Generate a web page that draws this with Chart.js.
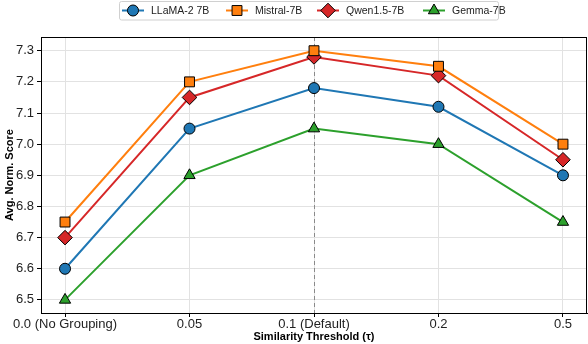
<!DOCTYPE html>
<html>
<head>
<meta charset="utf-8">
<script src="https://cdn.jsdelivr.net/npm/chart.js@4"></script>
<style>
  html, body { margin: 0; padding: 0; background: #fff; }
  #wrap { width: 588px; height: 344px; }
</style>
</head>
<body>
<div id="wrap"><canvas id="chart" width="588" height="344"></canvas></div>
<script>
// valores
const categories = ['0.0 (No Grouping)', '0.05', '0.1 (Default)', '0.2', '0.5'];
const llama = [6.60, 7.05, 7.18, 7.12, 6.90];
const mistral = [6.75, 7.20, 7.30, 7.25, 7.00];
const qwen = [6.70, 7.15, 7.28, 7.22, 6.95];
const gemma = [6.50, 6.90, 7.05, 7.00, 6.75];
const yTicks = [6.5, 6.6, 6.7, 6.8, 6.9, 7.0, 7.1, 7.2, 7.3];
const defaultIndex = 2;

const FONT = "'Liberation Sans', Arial, sans-serif";

function toPoints(values) {
    return values.map((v, i) => ({ x: i, y: v }));
}

function makeSet(label, values, color, style, radius) {
    return {
        label: label,
        data: toPoints(values),
        borderColor: color,
        backgroundColor: color,
        borderWidth: 2,
        pointStyle: style,
        pointRadius: radius,
        pointHoverRadius: radius,
        pointBackgroundColor: color,
        pointBorderColor: '#000',
        pointBorderWidth: 1,
        tension: 0
    };
}

// línea vertical punteada, marco y leyenda propia
const extras = {
    id: 'extras',
    beforeDatasetsDraw(chart) {
        const ctx = chart.ctx;
        const area = chart.chartArea;
        const x = Math.round(chart.scales.x.getPixelForValue(defaultIndex)) + 0.5;
        ctx.save();
        ctx.strokeStyle = '#8a8a8a';
        ctx.lineWidth = 1;
        ctx.setLineDash([4, 3]);
        ctx.beginPath();
        ctx.moveTo(x, area.top);
        ctx.lineTo(x, area.bottom);
        ctx.stroke();
        ctx.restore();
    },
    afterDraw(chart) {
        const ctx = chart.ctx;
        const area = chart.chartArea;
        ctx.save();
        ctx.strokeStyle = '#000';
        ctx.lineWidth = 1;
        ctx.strokeRect(Math.round(area.left) + 0.5, Math.round(area.top) + 0.5,
            Math.round(area.right - area.left) - 1, Math.round(area.bottom - area.top));
        ctx.restore();

        // leyenda
        const boxL = 119, boxT = 1.5, boxR = 498, boxB = 20;
        ctx.save();
        ctx.fillStyle = '#fff';
        ctx.strokeStyle = '#d0d0d0';
        ctx.lineWidth = 1;
        ctx.beginPath();
        ctx.roundRect(boxL + 0.5, boxT, boxR - boxL, boxB - boxT, 2);
        ctx.fill();
        ctx.stroke();
        const centers = [133, 237, 328, 434];
        const cy = 10.5;
        chart.data.datasets.forEach((ds, i) => {
            const cx = centers[i];
            ctx.strokeStyle = ds.borderColor;
            ctx.lineWidth = 2;
            ctx.beginPath();
            ctx.moveTo(cx - 11, cy);
            ctx.lineTo(cx + 11, cy);
            ctx.stroke();
            ctx.fillStyle = ds.pointBackgroundColor;
            ctx.strokeStyle = '#000';
            ctx.lineWidth = 1;
            Chart.helpers.drawPoint(ctx, {
                pointStyle: ds.pointStyle,
                radius: ds.pointRadius,
                rotation: 0,
                borderWidth: 1
            }, cx, cy);
            ctx.fillStyle = '#222';
            ctx.font = '10.5px ' + FONT;
            ctx.textBaseline = 'middle';
            ctx.textAlign = 'left';
            ctx.fillText(ds.label, cx + 18, cy + 0.5);
        });
        ctx.restore();
    }
};

const gridStyle = {
    color: '#e2e2e2',
    lineWidth: 1,
    borderDash: [4, 2],
    drawTicks: true,
    tickLength: 4,
    tickColor: '#000',
    tickBorderDash: [],
    tickWidth: 1
};

new Chart(document.getElementById('chart'), {
    type: 'line',
    data: {
        datasets: [
            makeSet('LLaMA-2 7B', llama, '#1f77b4', 'circle', 5.5),
            makeSet('Mistral-7B', mistral, '#ff7f0e', 'rect', 7),
            makeSet('Qwen1.5-7B', qwen, '#d62728', 'rectRot', 7.3),
            makeSet('Gemma-7B', gemma, '#2ca02c', 'triangle', 6.5)
        ]
    },
    options: {
        responsive: false,
        animation: false,
        events: [],
        layout: { autoPadding: false, padding: { top: 37, right: 1, left: 0, bottom: 0 } },
        plugins: {
            legend: { display: false },
            tooltip: { enabled: false }
        },
        scales: {
            x: {
                type: 'linear',
                min: -0.193,
                max: 4.193,
                afterBuildTicks(axis) {
                    axis.ticks = categories.map((c, i) => ({ value: i }));
                },
                afterFit(axis) {
                    axis.height = 31;
                    axis.paddingLeft = 0;
                    axis.paddingRight = 0;
                },
                grid: gridStyle,
                border: { display: true, color: '#000', width: 1 },
                ticks: {
                    autoSkip: false,
                    maxRotation: 0,
                    padding: 0,
                    color: '#222',
                    font: { family: FONT, size: 13 },
                    callback: (v) => categories[v]
                },
                title: {
                    display: true,
                    text: 'Similarity Threshold (τ)',
                    color: '#000',
                    padding: { top: 0, bottom: 0 },
                    font: { family: FONT, size: 11, weight: 'bold' }
                }
            },
            y: {
                min: 6.458,
                max: 7.344,
                afterBuildTicks(axis) {
                    axis.ticks = yTicks.map(v => ({ value: v }));
                },
                afterFit(axis) { axis.width = 41; },
                grid: gridStyle,
                border: { display: true, color: '#000', width: 1 },
                ticks: {
                    padding: 3,
                    color: '#222',
                    font: { family: FONT, size: 13 },
                    callback: (v) => v.toFixed(1)
                },
                title: {
                    display: true,
                    text: 'Avg. Norm. Score',
                    color: '#000',
                    padding: { top: 3, bottom: 1 },
                    font: { family: FONT, size: 11, weight: 'bold' }
                }
            }
        }
    },
    plugins: [extras]
});
</script>
</body>
</html>
